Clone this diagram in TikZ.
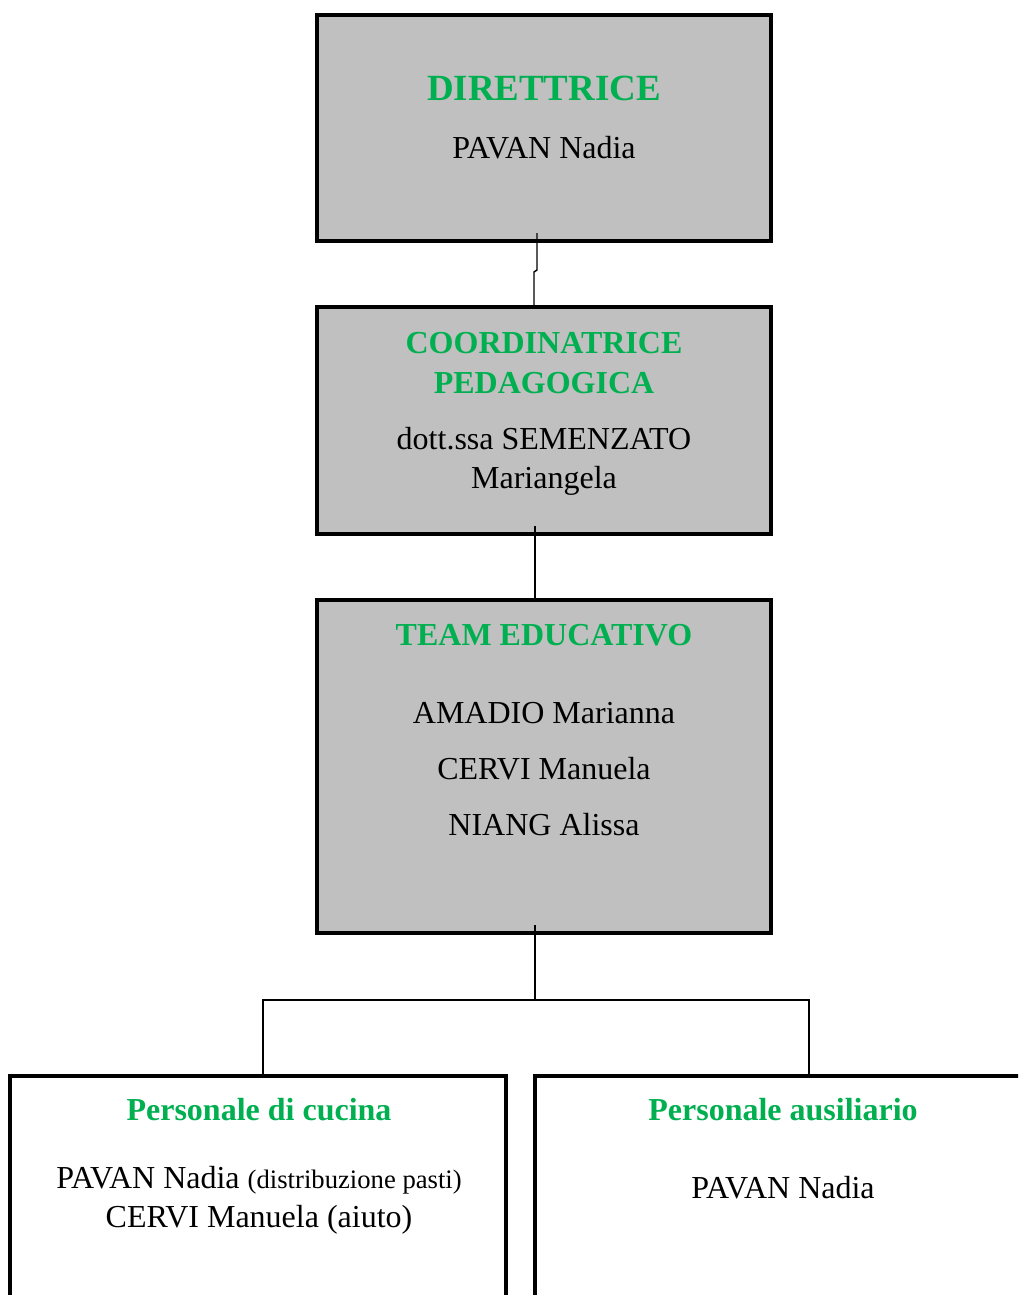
\documentclass[tikz,border=0pt]{standalone}
\usepackage{fontspec}
\setmainfont{Liberation Serif}
\definecolor{boxgray}{HTML}{C0C0C0}
\definecolor{titlegreen}{HTML}{00B050}
\begin{document}
\begin{tikzpicture}[x=0.75pt,y=-0.75pt,
  graybox/.style={draw=black,line width=2.5pt,fill=boxgray,rectangle,inner sep=0pt,outer sep=0pt,minimum width=340.5pt},
  whitebox/.style={draw=black,line width=2.5pt,fill=white,rectangle,inner sep=0pt,outer sep=0pt},
  conn/.style={draw=black,line width=1.1pt},
  ttl/.style={anchor=base,inner sep=0pt,text=titlegreen,font=\fontsize{24}{28}\selectfont\bfseries},
  txt/.style={anchor=base,inner sep=0pt,text=black,font=\fontsize{24}{28}\selectfont}]
\clip (0,0) rectangle (1018,1295);
\fill[white] (0,0) rectangle (1018,1295);
% boxes
\node[graybox,minimum height=169.5pt] (b1) at (544,128) {};
\node[graybox,minimum height=170.25pt] (b2) at (544,420.5) {};
\node[graybox,minimum height=249.75pt] (b3) at (544,766.5) {};
\node[whitebox,minimum width=372pt,minimum height=198pt] (b4) at (258,1208) {};
\node[whitebox,minimum width=393.75pt,minimum height=198pt] (b5) at (797.5,1208) {};
% connectors
\draw[conn] ([xshift=-5.25pt,yshift=6pt]b1.south) -- ++(0,37) -- ++(-3,2) -- ([xshift=-7.5pt]b2.north);
\draw[conn] ([xshift=-6.75pt,yshift=6pt]b2.south) -- ([xshift=-6.75pt]b3.north);
\draw[conn] ([xshift=-6.75pt,yshift=6pt]b3.south) -- ([xshift=-6.75pt,yshift=-50.25pt]b3.south) coordinate (bus);
\draw[conn] ([xshift=3.75pt]b4.north) |- (bus) -| ([xshift=8.625pt]b5.north);
% texts
\node[ttl,font=\fontsize{27.7}{31}\selectfont\bfseries] (t1) at (544,100) {DIRETTRICE};
\node[txt] (n1) at (544,158) {PAVAN Nadia};
\node[ttl] (t2a) at (544,353) {COORDINATRICE};
\node[ttl] (t2b) at (544,393) {PEDAGOGICA};
\node[txt] (n2a) at (544,449) {dott.ssa SEMENZATO};
\node[txt] (n2b) at (544,488) {Mariangela};
\node[ttl] (t3) at (544,645) {TEAM EDUCATIVO};
\node[txt] (n3a) at (544,723) {AMADIO Marianna};
\node[txt] (n3b) at (544,779) {CERVI Manuela};
\node[txt] (n3c) at (544,835) {NIANG Alissa};
\node[ttl] (t4) at (259,1120) {Personale di cucina};
\node[txt] (n4a) at (259,1188) {PAVAN Nadia {\fontsize{20}{24}\selectfont(distribuzione pasti)}};
\node[txt] (n4b) at (259,1227) {CERVI Manuela (aiuto)};
\node[ttl] (t5) at (783,1120) {Personale ausiliario};
\node[txt] (n5) at (783,1198) {PAVAN Nadia};
\end{tikzpicture}
\end{document}
